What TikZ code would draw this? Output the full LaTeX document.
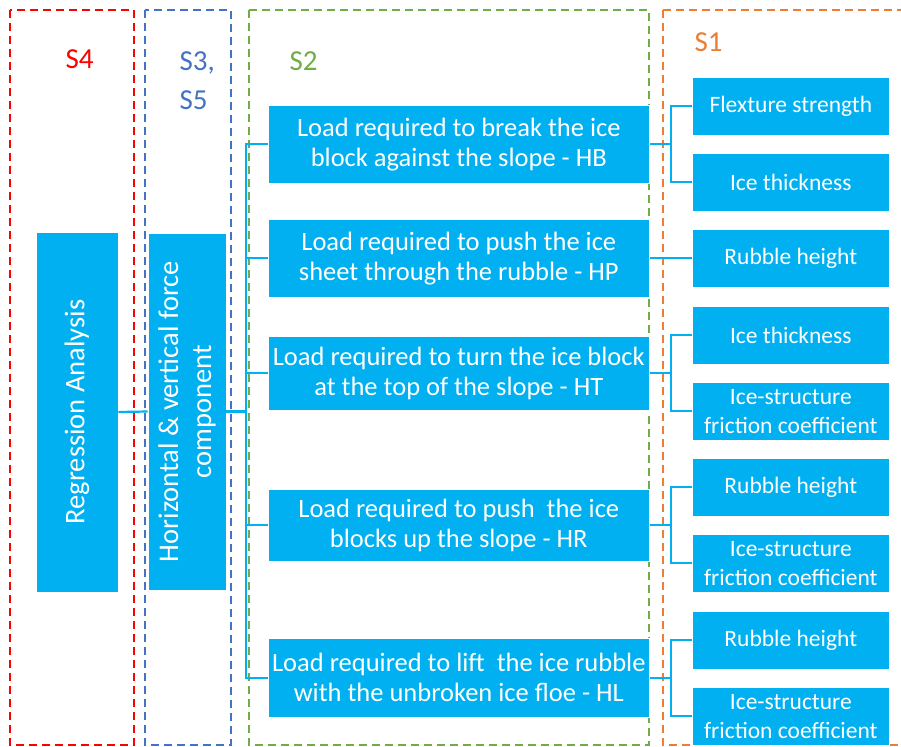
\documentclass[tikz,border=0pt]{standalone}
\usepackage{fontspec}
\setmainfont{Carlito}
\definecolor{sky}{HTML}{00B0F0}
\definecolor{cred}{HTML}{FF0000}
\definecolor{cblue}{HTML}{4472C4}
\definecolor{cgreen}{HTML}{70AD47}
\definecolor{corange}{HTML}{ED7D31}
\begin{document}
\begin{tikzpicture}[x=1pt,y=-1pt,
  frame/.style={line width=2.8pt, dash pattern=on 8pt off 5pt},
  box/.style={fill=sky, draw=white, line width=0.6pt, text=white, align=center, inner sep=0pt,
    font=\fontsize{23.5}{29.5}\selectfont},
  sbox/.style={box, anchor=north west, minimum width=381pt, font=\fontsize{26.5}{30}\selectfont},
  pbox/.style={box, anchor=north west, minimum width=197pt, minimum height=58pt},
  vbox/.style={box, rotate=90, font=\fontsize{28.5}{33}\selectfont},
  lab/.style={anchor=base west, align=left, font=\fontsize{29}{39}\selectfont},
  conn/.style={draw=sky, line width=2.2pt}]
\useasboundingbox (0,0) rectangle (901,746);
\clip (0,0) rectangle (901,746);
% frames
\draw[frame, cred] (10,10) rectangle (134,745);
\draw[frame, cblue] (145,10) rectangle (231,745);
\draw[frame, cgreen] (249,10) rectangle (649,745);
\draw[frame, corange] (663,10) rectangle (920,745);
% labels
\node[lab, text=cred] (s4) at (62,69) {S4};
\node[lab, text=cblue] (s35) at (176,110) {S3,\\S5};
\node[lab, text=cgreen] (s2) at (286,71) {S2};
\node[lab, text=corange] (s1) at (691,52) {S1};
% left boxes
\node[vbox, minimum width=360pt, minimum height=82pt] (reg) at (77,412) {Regression Analysis};
\node[vbox, minimum width=357pt, minimum height=78pt] (hv) at (187,411.5) {Horizontal \& vertical force\\component};
% S2 boxes
\node[sbox, minimum height=78pt] (hb) at (268,105) {Load required to break the ice\\block against the slope - HB};
\node[sbox, minimum height=78pt] (hp) at (268,219) {Load required to push the ice\\sheet through the rubble - HP};
\node[sbox, minimum height=74pt] (ht) at (268,336) {Load required to turn the ice block\\at the top of the slope - HT};
\node[sbox, minimum height=72pt] (hr) at (268,489) {Load required to push\ \ the ice\\blocks up the slope - HR};
\node[sbox, minimum height=79pt] (hl) at (268,638) {Load required to lift\ \ the ice rubble\\with the unbroken ice floe - HL};
% S1 boxes
\node[pbox] (fs) at (692,77) {Flexture strength};
\node[pbox] (it1) at (692,153) {Ice thickness};
\node[pbox] (rh1) at (692,229) {Rubble height};
\node[pbox] (it2) at (692,306) {Ice thickness};
\node[pbox] (fc1) at (692,382) {Ice-structure\\friction coefficient};
\node[pbox] (rh2) at (692,458) {Rubble height};
\node[pbox] (fc2) at (692,534) {Ice-structure\\friction coefficient};
\node[pbox] (rh3) at (692,611) {Rubble height};
\node[pbox] (fc3) at (692,687) {Ice-structure\\friction coefficient};
% connectors left
\draw[conn] (reg.south) -- (hv.north);
\draw[conn] (hb.west) -- ++(-22,0) coordinate (bl) |- (hl.west);
\draw[conn] (hv.south) -- (hv.south -| bl);
\draw[conn] (hp.west) -- (hp.west -| bl);
\draw[conn] (ht.west) -- (ht.west -| bl);
\draw[conn] (hr.west) -- (hr.west -| bl);
% connectors right
\draw[conn] (fs.west) -- ++(-21,0) coordinate (k1) |- (it1.west);
\draw[conn] (hb.east) -- (hb.east -| k1);
\draw[conn] (hp.east) -- (rh1.west |- hp.east);
\draw[conn] (it2.west) -- ++(-21,0) coordinate (k3) |- (fc1.west);
\draw[conn] (ht.east) -- (ht.east -| k3);
\draw[conn] (rh2.west) -- ++(-21,0) coordinate (k4) |- (fc2.west);
\draw[conn] (hr.east) -- (hr.east -| k4);
\draw[conn] (rh3.west) -- ++(-21,0) coordinate (k5) |- (fc3.west);
\draw[conn] (hl.east) -- (hl.east -| k5);
\end{tikzpicture}
\end{document}
